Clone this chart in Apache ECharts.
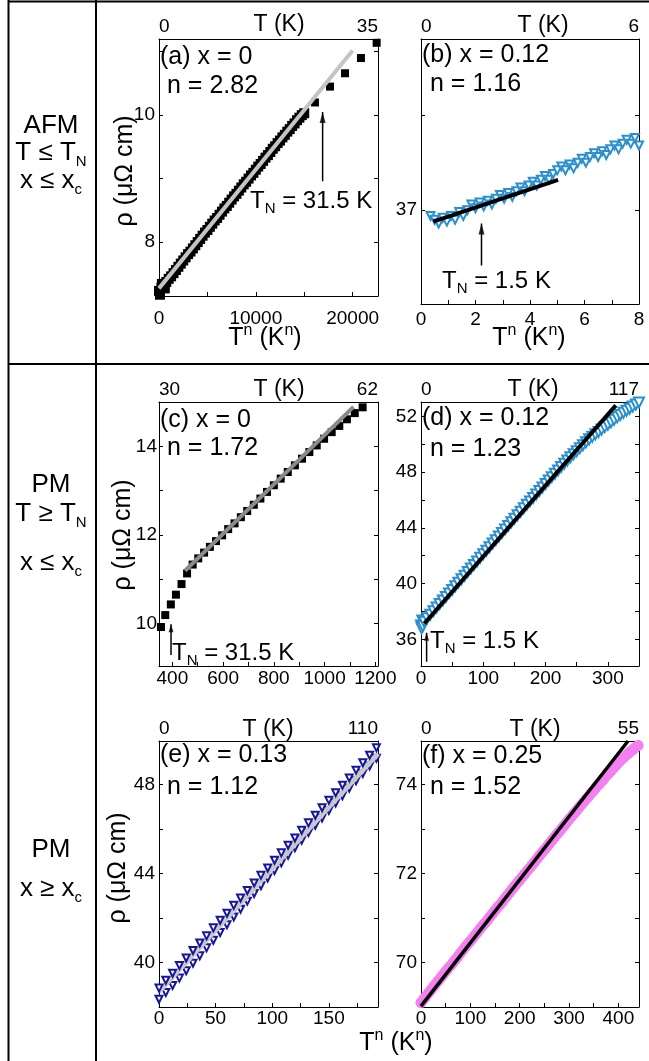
<!DOCTYPE html>
<html><head><meta charset="utf-8">
<script src="https://cdn.jsdelivr.net/npm/echarts@6/dist/echarts.min.js"></script>
<style>html,body{margin:0;padding:0;background:#fff}#c{width:649px;height:1061px}</style>
</head><body><div id="c"></div>
<script>
const FONT = 'Liberation Sans, Arial, Helvetica, sans-serif';

// ---------- DATA ----------
// (a) x = 0, AFM, n = 2.82 : [T^n, rho]
const aBand = [[0,7.23],[250,7.28],[500,7.32],[750,7.37],[1000,7.42],[1250,7.46],[1500,7.51],[1750,7.56],[2000,7.61],[2250,7.66],[2500,7.71],[2750,7.76],[3000,7.81],[3250,7.85],[3500,7.90],[3750,7.95],[4000,8.00],[4250,8.05],[4500,8.10],[4750,8.15],[5000,8.19],[5250,8.24],[5500,8.29],[5750,8.34],[6000,8.38],[6250,8.43],[6500,8.48],[6750,8.53],[7000,8.57],[7250,8.62],[7500,8.67],[7750,8.72],[8000,8.76],[8250,8.81],[8500,8.86],[8750,8.91],[9000,8.95],[9250,9.00],[9500,9.05],[9750,9.09],[10000,9.14],[10250,9.19],[10500,9.23],[10750,9.28],[11000,9.33],[11250,9.37],[11500,9.42],[11750,9.47],[12000,9.51],[12250,9.56],[12500,9.60],[12750,9.65],[13000,9.69],[13250,9.74],[13500,9.78],[13750,9.83],[14000,9.87],[14250,9.92],[14500,9.96],[14750,10.00],[15000,10.03],[100,7.17],[300,7.34],[600,7.27]];
const aHigh = [[16110,10.20],[17660,10.45],[19210,10.66],[20860,10.90],[22480,11.14]];
const aFit = [[0,7.27],[20000,11.02]];
const aArrow = [[16900,8.96],[16900,10.05]];
// (b) x = 0.12, AFM, n = 1.16
const bRho = [[0.35,36.97],[0.5,36.95],[0.65,36.93],[0.8,36.96],[0.95,36.94],[1.1,36.97],[1.25,36.95],[1.4,36.99],[1.55,36.97],[1.7,37.00],[1.85,37.03],[2.0,37.01],[2.15,37.04],[2.3,37.02],[2.45,37.05],[2.6,37.03],[2.75,37.06],[2.9,37.08],[3.05,37.06],[3.2,37.09],[3.35,37.07],[3.5,37.10],[3.65,37.12],[3.8,37.10],[3.95,37.13],[4.1,37.15],[4.25,37.13],[4.4,37.16],[4.55,37.18],[4.7,37.16],[4.85,37.19],[5.0,37.21],[5.15,37.23],[5.3,37.21],[5.45,37.24],[5.6,37.22],[5.75,37.25],[5.9,37.27],[6.05,37.25],[6.2,37.28],[6.35,37.30],[6.5,37.28],[6.65,37.31],[6.8,37.29],[6.95,37.32],[7.1,37.34],[7.25,37.32],[7.4,37.35],[7.55,37.37],[7.7,37.35],[7.85,37.38],[8.0,37.34]];
const bFit = [[0.45,36.94],[5.03,37.16]];
const bArrow = [[2.22,36.71],[2.22,36.93]];
// (c) x = 0, PM, n = 1.72
const cRho = [[355,9.92],[372,10.19],[394,10.43],[414,10.65],[436,10.89],[458,11.13],[480,11.33],[502,11.47],[525,11.60],[548,11.73],[572,11.86],[596,11.99],[620,12.13],[645,12.26],[670,12.40],[695,12.54],[721,12.68],[747,12.82],[773,12.97],[800,13.12],[827,13.27],[855,13.42],[883,13.57],[911,13.72],[940,13.87],[969,14.02],[998,14.17],[1028,14.32],[1058,14.46],[1088,14.61],[1119,14.75],[1150,14.88]];
const cFit = [[450,11.19],[1114,14.89]];
const cArrow = [[394.7,9.29],[394.7,9.98]];
// (d) x = 0.12, PM, n = 1.23
const dRho = [[0,37.00],[1,36.80],[2,37.35],[3,36.95],[5,37.26],[10,37.51],[15,37.77],[20,38.02],[25,38.28],[30,38.53],[35,38.79],[40,39.04],[45,39.30],[50,39.55],[55,39.81],[60,40.06],[65,40.32],[70,40.57],[75,40.83],[80,41.08],[85,41.34],[90,41.59],[95,41.85],[100,42.10],[105,42.36],[110,42.61],[115,42.87],[120,43.12],[125,43.38],[130,43.63],[135,43.89],[140,44.14],[145,44.40],[150,44.65],[155,44.90],[160,45.15],[165,45.40],[170,45.65],[175,45.90],[180,46.15],[185,46.40],[190,46.65],[195,46.90],[200,47.15],[205,47.40],[210,47.64],[215,47.88],[220,48.12],[225,48.36],[230,48.60],[235,48.83],[240,49.06],[245,49.28],[250,49.50],[255,49.72],[260,49.93],[265,50.14],[270,50.35],[275,50.53],[280,50.71],[285,50.88],[290,51.05],[295,51.23],[300,51.40],[305,51.58],[310,51.75],[315,51.93],[320,52.10],[325,52.25],[330,52.40],[335,52.55],[340,52.70],[345,52.85],[350,53.00]];
const dFit = [[5.3,37.14],[312.8,52.79]];
const dArrow = [[9,34.4],[9,36.47]];
// (e) x = 0.13, PM, n = 1.12 (two traces)
const eUp = [[0,38.85],[6,39.20],[12,39.52],[18,39.87],[24,40.20],[30,40.54],[36,40.88],[42,41.20],[48,41.56],[54,41.90],[60,42.22],[66,42.57],[72,42.90],[78,43.24],[84,43.58],[90,43.92],[96,44.25],[102,44.60],[108,44.93],[114,45.27],[120,45.60],[126,45.95],[132,46.28],[138,46.62],[144,46.96],[150,47.30],[156,47.63],[162,47.97],[168,48.30],[174,48.65],[180,48.98],[186,49.32],[192,49.66]];
const eLow = [[0,38.35],[6,38.65],[12,38.97],[18,39.30],[24,39.63],[30,39.97],[36,40.30],[42,40.66],[48,41.00],[54,41.35],[60,41.70],[66,42.05],[72,42.40],[78,42.76],[84,43.10],[90,43.45],[96,43.80],[102,44.14],[108,44.48],[114,44.82],[120,45.16],[126,45.50],[132,45.84],[138,46.17],[144,46.50],[150,46.84],[156,47.17],[162,47.50],[168,47.84],[174,48.17],[180,48.50],[186,48.84],[192,49.18]];
const eFit = [[0,38.68],[193.4,49.39]];
// (f) x = 0.25, PM, n = 1.52
const fRho = [[0,69.10],[5,69.17],[10,69.24],[15,69.31],[20,69.38],[25,69.45],[30,69.52],[35,69.59],[40,69.66],[45,69.73],[50,69.80],[55,69.87],[60,69.93],[65,70.00],[70,70.07],[75,70.14],[80,70.21],[85,70.28],[90,70.35],[95,70.42],[100,70.48],[105,70.55],[110,70.62],[115,70.69],[120,70.76],[125,70.83],[130,70.89],[135,70.96],[140,71.03],[145,71.10],[150,71.17],[155,71.24],[160,71.30],[165,71.37],[170,71.44],[175,71.51],[180,71.58],[185,71.65],[190,71.72],[195,71.79],[200,71.85],[205,71.92],[210,71.99],[215,72.06],[220,72.12],[225,72.19],[230,72.26],[235,72.33],[240,72.40],[245,72.47],[250,72.53],[255,72.60],[260,72.67],[265,72.74],[270,72.81],[275,72.88],[280,72.94],[285,73.01],[290,73.08],[295,73.15],[300,73.22],[305,73.28],[310,73.35],[315,73.41],[320,73.48],[325,73.55],[330,73.61],[335,73.68],[340,73.74],[345,73.81],[350,73.87],[355,73.94],[360,74.00],[365,74.06],[370,74.12],[375,74.19],[380,74.25],[385,74.31],[390,74.37],[395,74.43],[400,74.49],[405,74.55],[410,74.60],[415,74.65],[420,74.70],[425,74.75],[430,74.79],[435,74.84],[440,74.88]];
const fFit = [[0,69.02],[419.6,74.98]];

// tick values / labels
const aXTicks = [0,5000,10000,15000,20000], aXLabels = [0,10000,20000], aYTicks = [8,9,10,11], aYLabels = [8,10];
const bXTicks = [0,1,2,3,4,5,6,7,8], bXLabels = [0,2,4,6,8], bYTicks = [37,37.5], bYLabels = [37];
const cXTicks = [400,500,600,700,800,900,1000,1100,1200], cXLabels = [400,600,800,1000,1200], cYTicks = [10,11,12,13,14], cYLabels = [10,12,14];
const dXTicks = [0,50,100,150,200,250,300,350], dXLabels = [0,100,200,300], dYTicks = [36,38,40,42,44,46,48,50,52], dYLabels = [36,40,44,48,52];
const eXTicks = [0,25,50,75,100,125,150,175], eXLabels = [0,50,100,150], eYTicks = [40,42,44,46,48], eYLabels = [40,44,48];
const fXTicks = [0,50,100,150,200,250,300,350,400], fXLabels = [0,100,200,300,400], fYTicks = [70,71,72,73,74], fYLabels = [70,72,74];
// temperature (top) axis ranges in K
const aT = [0,35], bT = [0,6], cT = [30,62], dT = [0,117], eT = [0,110], fT = [0,55];

// ---------- LAYOUT ----------
const panels = [
  {grid:{left:159,top:39,width:219,height:257}, x:[0,22620], y:[7.15,11.2], xt:aXTicks, xl:aXLabels, yt:aYTicks, yl:aYLabels, T:aT, xm:13},
  {grid:{left:421,top:39,width:218,height:265}, x:[0,8], y:[36.507,37.9], xt:bXTicks, xl:bXLabels, yt:bYTicks, yl:bYLabels, T:bT, xm:6},
  {grid:{left:159,top:402,width:219,height:264}, x:[347.3,1210.6], y:[9.04,15], xt:cXTicks, xl:cXLabels, yt:cYTicks, yl:cYLabels, T:cT, xm:3, ym:2},
  {grid:{left:421,top:402,width:218,height:264}, x:[0,350], y:[34.09,53.03], xt:dXTicks, xl:dXLabels, yt:dYTicks, yl:dYLabels, T:dT, xm:3},
  {grid:{left:159,top:741,width:219,height:266}, x:[0,193.4], y:[38.0,49.96], xt:eXTicks, xl:eXLabels, yt:eYTicks, yl:eYLabels, T:eT, xm:2},
  {grid:{left:421,top:741,width:218,height:266}, x:[0,441.8], y:[69.0,74.98], xt:fXTicks, xl:fXLabels, yt:fYTicks, yl:fYLabels, T:fT, xm:2}
];

const black = '#000';
const plain = v => String(v);
const lineAx = {show:true, onZero:false, lineStyle:{color:black, width:1}};
const grids = [], xAxes = [], yAxes = [];
panels.forEach((p, i) => {
  grids.push(Object.assign({containLabel:false, outerBoundsMode:'none'}, p.grid));
  xAxes.push({type:'value', gridIndex:i, position:'bottom', min:p.x[0], max:p.x[1],
    axisLine:lineAx, splitLine:{show:false},
    axisTick:{show:true, inside:true, length:4, customValues:p.xt, lineStyle:{color:black}},
    axisLabel:{customValues:p.xl, formatter:plain, margin:p.xm, fontSize:19, color:black, fontFamily:FONT}});
  xAxes.push({type:'value', gridIndex:i, position:'top', min:p.T[0], max:p.T[1],
    axisLine:lineAx, splitLine:{show:false}, axisTick:{show:false},
    axisLabel:{customValues:[p.T[0], p.T[1]], formatter:plain, margin:3, fontSize:19, color:black, fontFamily:FONT,
      alignMinLabel:'left', alignMaxLabel:'right'}});
  yAxes.push({type:'value', gridIndex:i, position:'left', min:p.y[0], max:p.y[1],
    axisLine:lineAx, splitLine:{show:false},
    axisTick:{show:true, inside:true, length:4, customValues:p.yt, lineStyle:{color:black}},
    axisLabel:{customValues:p.yl, formatter:plain, margin:p.ym || 4, fontSize:19, color:black, fontFamily:FONT}});
  yAxes.push({type:'value', gridIndex:i, position:'right', min:p.y[0], max:p.y[1],
    axisLine:lineAx, splitLine:{show:false},
    axisTick:{show:true, inside:true, length:4, customValues:p.yt, lineStyle:{color:black}},
    axisLabel:{show:false}});
});

function scatter(i, data, symbol, size, color, extra) {
  return Object.assign({type:'scatter', xAxisIndex:2*i, yAxisIndex:2*i, data, symbol, symbolSize:size,
    itemStyle:{color, borderColor:color, borderWidth: symbol.indexOf('empty')===0 ? 1.4 : 0, opacity:1},
    silent:true, animation:false, clip:false}, extra || {});
}
function fit(i, data, color, width) {
  return {type:'line', xAxisIndex:2*i, yAxisIndex:2*i, data, showSymbol:false, symbol:'none',
    lineStyle:{color, width, cap:'butt'}, silent:true, animation:false, z:5};
}
function arrow(i, pts, head) {
  return [
    {type:'line', xAxisIndex:2*i, yAxisIndex:2*i, data:pts, showSymbol:false, symbol:'none',
      lineStyle:{color:black, width:1.5}, silent:true, animation:false, z:6},
    {type:'scatter', xAxisIndex:2*i, yAxisIndex:2*i, data:[pts[1]], symbol:'triangle', symbolSize:head,
      symbolOffset:[0,'50%'], itemStyle:{color:black}, silent:true, animation:false, z:7, clip:false}
  ];
}
const blueB = '#2a8fce', navy = '#16169c', pink = '#f47ff0';
const series = [
  scatter(0, aBand, 'rect', 10, black), scatter(0, aHigh, 'rect', 8, black), fit(0, aFit, '#c4c4c4', 4), ...arrow(0, aArrow, [6,11]),
  scatter(1, bRho, 'emptyTriangle', 8, blueB, {symbolRotate:180}), fit(1, bFit, black, 4), ...arrow(1, bArrow, [6,11]),
  scatter(2, cRho, 'rect', 8, black), fit(2, cFit, '#8a8a8a', 4), ...arrow(2, cArrow, [5,8]),
  scatter(3, dRho, 'emptyTriangle', 10, blueB, {symbolRotate:180}), fit(3, dFit, black, 4), ...arrow(3, dArrow, [5,8]),
  scatter(4, eLow, 'emptyTriangle', 7, navy, {symbolRotate:180}), fit(4, eFit, '#c8c8c8', 5), scatter(4, eUp, 'emptyTriangle', 7, navy, {symbolRotate:180, z:6}),
  scatter(5, fRho, 'circle', 11, pink), fit(5, fFit, black, 3.5)
];

// ---------- TEXT / FRAME ----------
const G = [];
function txt(text, x, y, size, align, extra) {
  G.push(Object.assign({type:'text', x, y, silent:true, style:{text, fontSize:size, fontFamily:FONT, fill:black,
    align:align||'left', textAlign:align||'left', verticalAlign:'middle', textVerticalAlign:'middle'}}, extra||{}));
}
function rich(text, x, y, size, ssize, align, extra) {
  const m = {fontSize:size, fontFamily:FONT, fill:black, color:black, lineHeight:size+6};
  const sb = {fontSize:ssize, fontFamily:FONT, fill:black, color:black, lineHeight:ssize, verticalAlign:'bottom'};
  const sp = {fontSize:ssize, fontFamily:FONT, fill:black, color:black, lineHeight:ssize, verticalAlign:'top'};
  G.push(Object.assign({type:'text', x, y, silent:true, style:{text, rich:{m, s:sb, p:sp},
    align:align||'left', textAlign:align||'left', verticalAlign:'middle', textVerticalAlign:'middle'}}, extra||{}));
}
function line(x1,y1,x2,y2) {
  G.push({type:'line', silent:true, shape:{x1,y1,x2,y2}, style:{stroke:black, lineWidth:2}});
}
line(8,1.5,649,1.5); line(8.5,0,8.5,1061); line(96,0,96,1061); line(8,364,649,364);

// left row labels
txt('AFM', 51, 126, 26, 'center');
rich('{m|T \u2264 T}{s|N}', 51, 153, 26, 15, 'center');
rich('{m|x \u2264 x}{s|c}', 51, 181, 26, 15, 'center');
txt('PM', 51, 485, 26, 'center');
rich('{m|T \u2265 T}{s|N}', 51, 514, 26, 15, 'center');
rich('{m|x \u2264 x}{s|c}', 51, 563, 26, 15, 'center');
txt('PM', 51, 850, 26, 'center');
rich('{m|x \u2265 x}{s|c}', 51, 889, 26, 15, 'center');

// panel labels
const pl = [['(a) x = 0','n = 2.82',160,57,167,86],['(b) x = 0.12','n = 1.16',422,55,430,84],
  ['(c) x = 0','n = 1.72',160,420,167,448],['(d) x = 0.12','n = 1.23',422,418,430,449],
  ['(e) x = 0.13','n = 1.12',160,755,167,787],['(f) x = 0.25','n = 1.52',422,756,430,787]];
pl.forEach(r => { txt(r[0], r[2], r[3], 25); txt(r[1], r[4], r[5], 25); });

// top axis titles
[[279,25],[543,26],[279,390],[533,390],[268,730],[535,730]].forEach(c => txt('T (K)', c[0], c[1], 23, 'center'));
// bottom axis titles (T^n (K^n))
const tn = '{m|T}{p|n}{m| (K}{p|n}{m|)}';
rich(tn, 265, 338, 25, 16, 'center');
rich(tn, 529, 338, 25, 16, 'center');
rich(tn, 396, 1043, 25, 16, 'center');
// y titles
[[125,171],[123,535],[118,868]].forEach(c => txt('\u03C1 (\u03BC\u03A9 cm)', c[0], c[1], 25, 'center', {rotation:Math.PI/2}));
// T_N annotations
rich('{m|T}{s|N}{m| = 31.5 K}', 250, 201, 24, 15);
rich('{m|T}{s|N}{m| = 1.5 K}', 442, 281, 24, 15);
rich('{m|T}{s|N}{m| = 31.5 K}', 172, 653, 24, 15);
rich('{m|T}{s|N}{m| = 1.5 K}', 430, 641, 24, 15);

const chart = echarts.init(document.getElementById('c'), null, {renderer:'canvas'});
chart.setOption({animation:false, backgroundColor:'#fff', grid:grids, xAxis:xAxes, yAxis:yAxes, series, graphic:G});
</script></body></html>
